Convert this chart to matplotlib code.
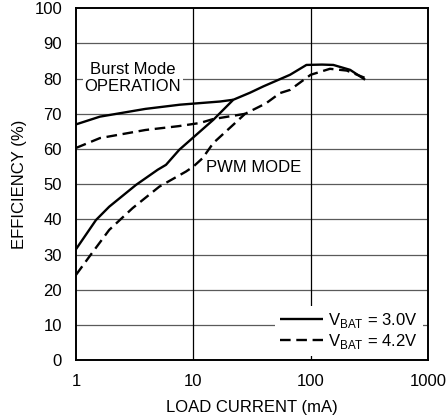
import matplotlib
matplotlib.use("Agg")
import matplotlib.pyplot as plt
from matplotlib.ticker import FixedLocator, NullLocator, FixedFormatter

plt.rcParams['font.family'] = ['Liberation Sans', 'DejaVu Sans']
plt.rcParams['mathtext.fontset'] = 'custom'
plt.rcParams['mathtext.rm'] = 'Liberation Sans'

FS = 12

# efficiency (%) vs load current (mA), VBAT = 3.0V
burst_i_30 = [1, 1.6, 3.9, 7.7, 16.9, 21.9]
burst_e_30 = [67, 69.2, 71.4, 72.6, 73.5, 74]
pwm_i_30 = [1, 1.48, 1.92, 3.25, 4.97, 5.85, 7.6, 14.8, 21.9, 30.4, 39.5, 66.7, 92, 125, 156, 217, 291]
pwm_e_30 = [31.5, 39.8, 43.6, 49.8, 54.1, 55.5, 59.8, 68.3, 74, 76, 77.8, 81.1, 83.9, 84.0, 83.9, 82.5, 79.7]

# VBAT = 4.2V
burst_i_42 = [1, 1.6, 3.9, 7.5, 11.4, 14.7, 27.6]
burst_e_42 = [60.3, 63.1, 65.4, 66.5, 67.4, 68.5, 70]
pwm_i_42 = [1, 1.3, 1.92, 3.04, 5.13, 8.67, 10, 12.0, 14.8, 21.9, 27.6, 41.7, 54.8, 66.7, 100, 146, 203, 291]
pwm_e_42 = [24.2, 29.4, 37, 43.2, 49.3, 53.6, 55, 57.4, 61.7, 66.9, 70, 73, 75.9, 76.8, 81.1, 82.8, 82.3, 80.2]

x_ticks = [1, 10, 100, 1000]
y_ticks = list(range(0, 101, 10))

fig = plt.figure(figsize=(4.47, 4.16), dpi=100)
ax = fig.add_axes([0.170, 0.1346, 0.7875, 0.8454])

for y in y_ticks[1:-1]:
    ax.axhline(y, color='#5a5a5a', lw=0.9, zorder=1)
for x in x_ticks[1:-1]:
    ax.axvline(x, color='black', lw=0.9, zorder=1)

dash = (0, (4.5, 2.4))
lw = 1.7
ax.plot(burst_i_30, burst_e_30, color='black', lw=lw, solid_capstyle='butt', zorder=3)
ax.plot(pwm_i_30, pwm_e_30, color='black', lw=lw, solid_capstyle='butt', zorder=3,
        label=r'V$_\mathregular{BAT}$ = 3.0V')
ax.plot(burst_i_42, burst_e_42, color='black', lw=lw, ls=dash, zorder=3)
ax.plot(pwm_i_42, pwm_e_42, color='black', lw=lw, ls=dash, zorder=3,
        label=r'V$_\mathregular{BAT}$ = 4.2V')

ax.text(3.06, 80.2, 'Burst Mode\nOPERATION', ha='center', va='center', fontsize=FS,
        linespacing=1.2, zorder=2,
        bbox=dict(facecolor='white', edgecolor='none', pad=1.5))
ax.text(32.6, 54.6, 'PWM MODE', ha='center', va='center', fontsize=FS, zorder=2)

leg = ax.legend(loc='lower right', bbox_to_anchor=(0.985, 0.012), fontsize=FS,
                frameon=True, fancybox=False, framealpha=1, edgecolor='none',
                handlelength=2.6, handletextpad=0.3, labelspacing=0.1,
                borderpad=0.3, borderaxespad=0)
leg.set_zorder(4)

ax.set_xscale('log')
ax.set_xlim(1, 1000)
ax.set_ylim(0, 100)
ax.xaxis.set_major_locator(FixedLocator(x_ticks))
ax.xaxis.set_major_formatter(FixedFormatter([str(v) for v in x_ticks]))
ax.xaxis.set_minor_locator(NullLocator())
ax.set_yticks(y_ticks)
ax.tick_params(axis='both', length=0, labelsize=FS)
ax.tick_params(axis='y', pad=10)
ax.tick_params(axis='x', pad=10)

for s in ax.spines.values():
    s.set_linewidth(1.4)
    s.set_zorder(5)

ax.set_xlabel('LOAD CURRENT (mA)', fontsize=FS, labelpad=8)
ax.set_ylabel('EFFICIENCY (%)', fontsize=FS, labelpad=5)

fig.savefig('out.png', dpi=100)
